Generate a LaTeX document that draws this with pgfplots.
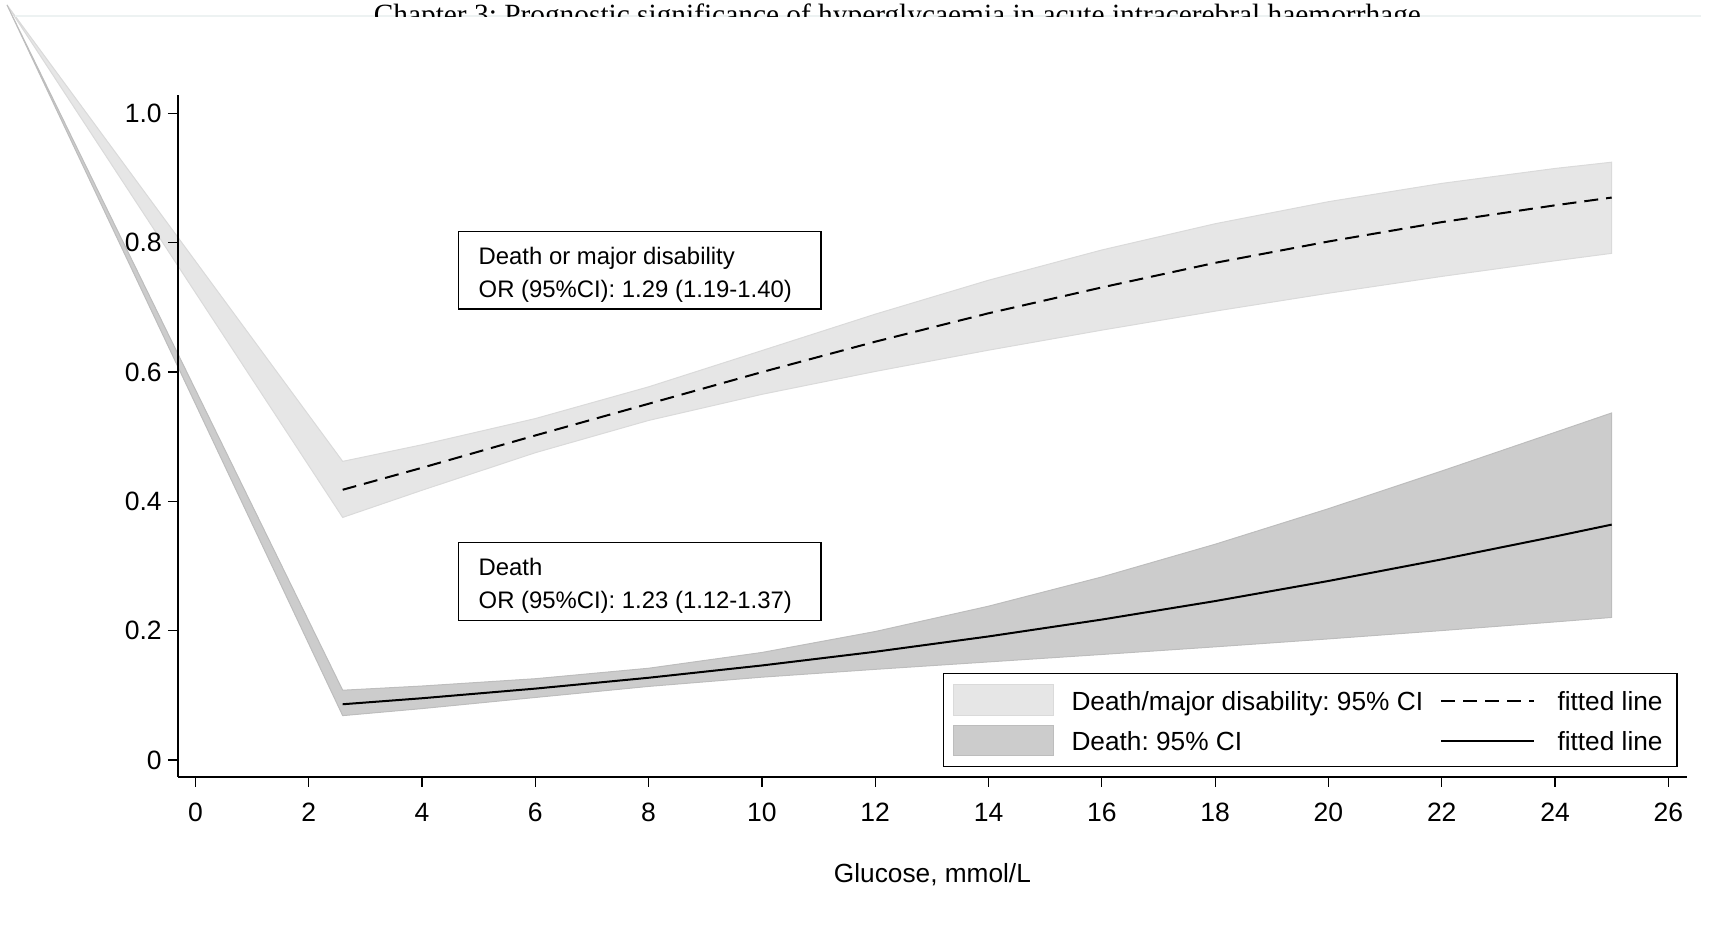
\documentclass[border=0pt]{standalone}
\usepackage{fontspec}
\setmainfont{Liberation Sans}
\newfontfamily\titlefont{Liberation Serif}
\usepackage{pgfplots}
\pgfplotsset{compat=1.18}
\frenchspacing

\definecolor{ciLight}{HTML}{E6E6E6}
\definecolor{ciLightEdge}{HTML}{DADADA}
\definecolor{ciDark}{HTML}{CCCCCC}
\definecolor{ciDarkEdge}{HTML}{BDBDBD}
\definecolor{hdrRule}{HTML}{EDF2F2}

% fitted probabilities
\pgfplotstableread{
x    fit
2.6  0.418
4    0.452
6    0.502
8    0.551
10   0.600
12   0.647
14   0.691
16   0.731
18   0.769
20   0.802
22   0.832
24   0.858
25   0.870
}\disab
\pgfplotstableread{
x    fit
2.6  0.0862
4    0.0955
6    0.1104
8    0.1272
10   0.1462
12   0.1674
14   0.1911
16   0.2172
18   0.2458
20   0.2769
22   0.3103
24   0.3457
25   0.3641
}\death

\begin{document}
\begin{tikzpicture}
\begin{axis}[scale only axis,width=603.6pt,height=272.7pt,
	xmin=-0.307,xmax=26.33,ymin=-0.026,ymax=1.0286,
	axis x line*=bottom,axis y line*=left,
	axis line style={line width=0.6pt,-},
	xtick={0,2,4,6,8,10,12,14,16,18,20,22,24,26},
	xticklabels={0,2,4,6,8,10,12,14,16,18,20,22,24,26},
	ytick={0,0.2,0.4,0.6,0.8,1},
	yticklabels={0,0.2,0.4,0.6,0.8,1.0},
	tick align=outside,major tick length=4pt,
	tick style={line width=0.5pt,black},
	tick label style={font=\fontsize{10.6}{12}\selectfont},
	xticklabel style={yshift=-3pt},
	yticklabel style={xshift=1pt},
	clip=false,axis on top]

% CI bands (the stray vertex at the page corner is part of the original)
\addplot[fill=ciLight,draw=ciLightEdge,line width=0.4pt] coordinates {
	(-3.326,1.168)
	(2.6,0.4619) (4,0.4876) (6,0.5281) (8,0.5772) (10,0.6333) (12,0.6896)
	(14,0.7421) (16,0.7889) (18,0.8295) (20,0.8636) (22,0.8919) (24,0.9150) (25,0.9247)
	(25,0.7837) (24,0.7722) (22,0.7480) (20,0.7220) (18,0.6943) (16,0.6649)
	(14,0.6339) (12,0.6010) (10,0.5656) (8,0.5252) (6,0.4753) (4,0.4172) (2.6,0.3752)
	(-3.326,1.168)};
\addplot[fill=ciDark,draw=ciDarkEdge,line width=0.4pt] coordinates {
	(-3.326,1.168)
	(2.6,0.1079) (4,0.1144) (6,0.1257) (8,0.1419) (10,0.1663) (12,0.1987)
	(14,0.2379) (16,0.2831) (18,0.3337) (20,0.3887) (22,0.4470) (24,0.5068) (25,0.5368)
	(25,0.2205) (24,0.2136) (22,0.2002) (20,0.1873) (18,0.1750) (16,0.1632)
	(14,0.1517) (12,0.1402) (10,0.1281) (8,0.1138) (6,0.0967) (4,0.0795) (2.6,0.0686)
	(-3.326,1.168)};

\addplot[black,line width=0.8pt,dash pattern=on 5.6pt off 3.2pt] table[x=x,y=fit] {\disab};
\addplot[black,line width=0.8pt] table[x=x,y=fit] {\death};

% annotation boxes
\draw[line width=0.5pt] (axis cs:4.646,0.6976) rectangle (axis cs:11.043,0.8175);
\node[anchor=base west,inner sep=0pt,font=\fontsize{9.55}{11}\selectfont] at (axis cs:4.992,0.7672) {Death or major disability};
\node[anchor=base west,inner sep=0pt,font=\fontsize{9.55}{11}\selectfont] at (axis cs:4.992,0.7161) {OR (95\%CI): 1.29 (1.19-1.40)};
\draw[line width=0.5pt] (axis cs:4.646,0.2163) rectangle (axis cs:11.043,0.3362);
\node[anchor=base west,inner sep=0pt,font=\fontsize{9.55}{11}\selectfont] at (axis cs:4.992,0.2854) {Death};
\node[anchor=base west,inner sep=0pt,font=\fontsize{9.55}{11}\selectfont] at (axis cs:4.992,0.2348) {OR (95\%CI): 1.23 (1.12-1.37)};

% legend
\draw[line width=0.5pt,fill=white] (axis cs:13.202,-0.010) rectangle (axis cs:26.153,0.1335);
\filldraw[fill=ciLight,draw=ciLightEdge,line width=0.4pt] (axis cs:13.376,0.0693) rectangle (axis cs:15.150,0.1165);
\filldraw[fill=ciDark,draw=ciDarkEdge,line width=0.4pt] (axis cs:13.376,0.0068) rectangle (axis cs:15.150,0.0540);
\draw[black,line width=0.8pt,dash pattern=on 5.6pt off 3.2pt] (axis cs:21.99,0.092) -- (axis cs:23.63,0.092);
\draw[black,line width=0.8pt] (axis cs:21.99,0.0295) -- (axis cs:23.63,0.0295);
\begin{scope}[every node/.style={anchor=base west,inner sep=0pt,font=\fontsize{10.5}{12}\selectfont}]
\node at (axis cs:15.456,0.077) {Death/major disability: 95\% CI};
\node at (axis cs:15.456,0.014) {Death: 95\% CI};
\node at (axis cs:24.035,0.077) {fitted line};
\node at (axis cs:24.035,0.014) {fitted line};
\end{scope}

\node[anchor=base,inner sep=0pt,font=\fontsize{10.5}{12}\selectfont] at (axis cs:13.01,-0.19) {Glucose, mmol/L};

\draw[hdrRule,line width=0.5pt] (axis cs:-3.184,1.1508) -- (axis cs:26.57,1.1508);

\coordinate (tl) at (axis cs:-3.449,1.1756);
\coordinate (br) at (axis cs:26.771,-0.2539);
\coordinate (cut) at (axis cs:26.771,1.1501);
\coordinate (tbase) at (axis cs:12.39,1.138);
\end{axis}
\begin{scope}
\clip (tl) rectangle (cut);
\node[anchor=base,inner sep=0pt] at (tbase) {\resizebox{418.8pt}{!}{\titlefont Chapter 3: Prognostic significance of hyperglycaemia in acute intracerebral haemorrhage}};
\end{scope}
\pgfresetboundingbox
\path[use as bounding box] (tl) rectangle (br);
\end{tikzpicture}
\end{document}
